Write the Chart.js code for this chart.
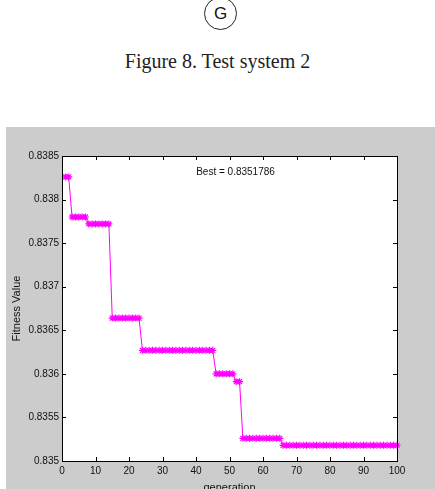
<!DOCTYPE html>
<html>
<head>
<meta charset="utf-8">
<title>Figure 8. Test system 2</title>
<script src="https://cdn.jsdelivr.net/npm/chart.js@4.4.0/dist/chart.umd.min.js"></script>
<style>
  html, body { margin: 0; padding: 0; background: #fff; width: 435px; height: 489px; overflow: hidden; }
  #badge {
    position: absolute; left: 204px; top: -3px; width: 31px; height: 31px;
    border: 1.3px solid #222; border-radius: 50%;
    font: 17px "Liberation Sans", Arial, sans-serif; color: #111;
    display: flex; align-items: center; justify-content: center;
  }
  #caption {
    position: absolute; left: 0; top: 51px; width: 435px; text-align: center;
    font: 20px/20px "Liberation Serif", "Times New Roman", serif; color: #222;
  }
  #figure { position: absolute; left: 6px; top: 127px; width: 429px; height: 372px; background: #cccccc; }
</style>
</head>
<body>
<div id="badge">G</div>
<div id="caption">Figure 8. Test system 2</div>
<div id="figure"><canvas id="chart" width="429" height="372"></canvas></div>

<script>
// generation number (x) and best fitness per generation (y)
const generations = [
  1, 2, 3, 4, 5, 6, 7, 8, 9, 10,
  11, 12, 13, 14, 15, 16, 17, 18, 19, 20,
  21, 22, 23, 24, 25, 26, 27, 28, 29, 30,
  31, 32, 33, 34, 35, 36, 37, 38, 39, 40,
  41, 42, 43, 44, 45, 46, 47, 48, 49, 50,
  51, 52, 53, 54, 55, 56, 57, 58, 59, 60,
  61, 62, 63, 64, 65, 66, 67, 68, 69, 70,
  71, 72, 73, 74, 75, 76, 77, 78, 79, 80,
  81, 82, 83, 84, 85, 86, 87, 88, 89, 90,
  91, 92, 93, 94, 95, 96, 97, 98, 99, 100
];
const bestFitness = [
  0.83826, 0.83826, 0.83780, 0.83780, 0.83780, 0.83780, 0.83780, 0.83772, 0.83772, 0.83772,
  0.83772, 0.83772, 0.83772, 0.83772, 0.83664, 0.83664, 0.83664, 0.83664, 0.83664, 0.83664,
  0.83664, 0.83664, 0.83664, 0.83627, 0.83627, 0.83627, 0.83627, 0.83627, 0.83627, 0.83627,
  0.83627, 0.83627, 0.83627, 0.83627, 0.83627, 0.83627, 0.83627, 0.83627, 0.83627, 0.83627,
  0.83627, 0.83627, 0.83627, 0.83627, 0.83627, 0.83600, 0.83600, 0.83600, 0.83600, 0.83600,
  0.83600, 0.83591, 0.83591, 0.83526, 0.83526, 0.83526, 0.83526, 0.83526, 0.83526, 0.83526,
  0.83526, 0.83526, 0.83526, 0.83526, 0.83526, 0.83518, 0.83518, 0.83518, 0.83518, 0.83518,
  0.83518, 0.83518, 0.83518, 0.83518, 0.83518, 0.83518, 0.83518, 0.83518, 0.83518, 0.83518,
  0.83518, 0.83518, 0.83518, 0.83518, 0.83518, 0.83518, 0.83518, 0.83518, 0.83518, 0.83518,
  0.83518, 0.83518, 0.83518, 0.83518, 0.83518, 0.83518, 0.83518, 0.83518, 0.83518, 0.83518
];

const xTickValues = [0, 10, 20, 30, 40, 50, 60, 70, 80, 90, 100];
const xTickLabels = ['0', '10', '20', '30', '40', '50', '60', '70', '80', '90', '100'];
const yTickValues = [0.835, 0.8355, 0.836, 0.8365, 0.837, 0.8375, 0.838, 0.8385];
const yTickLabels = ['0.835', '0.8355', '0.836', '0.8365', '0.837', '0.8375', '0.838', '0.8385'];

const bestLabel = 'Best = 0.8351786';
const xTitle = 'generation';
const yTitle = 'Fitness Value';

const tickFont = { family: '"Liberation Sans", Arial, sans-serif', size: 10 };
const titleFont = { family: '"Liberation Sans", Arial, sans-serif', size: 11 };

// white axes box, black frame, inward ticks on all sides, "Best" text
const matlabAxes = {
  id: 'matlabAxes',
  beforeDraw(chart) {
    const a = chart.chartArea;
    const ctx = chart.ctx;
    ctx.save();
    ctx.fillStyle = '#ffffff';
    ctx.fillRect(a.left, a.top, a.right - a.left, a.bottom - a.top);
    ctx.restore();
  },
  afterDraw(chart) {
    const a = chart.chartArea;
    const ctx = chart.ctx;
    const xs = chart.scales.x;
    const ys = chart.scales.y;
    const len = 4;
    ctx.save();
    ctx.strokeStyle = '#000';
    ctx.lineWidth = 1;
    ctx.beginPath();
    xs.ticks.forEach(t => {
      const px = Math.round(xs.getPixelForValue(t.value)) + 0.5;
      ctx.moveTo(px, a.bottom); ctx.lineTo(px, a.bottom - len);
      ctx.moveTo(px, a.top); ctx.lineTo(px, a.top + len);
    });
    ys.ticks.forEach(t => {
      const py = Math.round(ys.getPixelForValue(t.value)) + 0.5;
      ctx.moveTo(a.left, py); ctx.lineTo(a.left + len, py);
      ctx.moveTo(a.right, py); ctx.lineTo(a.right - len, py);
    });
    ctx.stroke();
    ctx.strokeRect(Math.round(a.left) + 0.5, Math.round(a.top) + 0.5,
      Math.round(a.right - a.left), Math.round(a.bottom - a.top));

    ctx.fillStyle = '#111';
    ctx.font = '10px "Liberation Sans", Arial, sans-serif';
    ctx.textAlign = 'center';
    ctx.textBaseline = 'alphabetic';
    ctx.fillText(bestLabel, (a.left + a.right) / 2 + 6, a.top + 19);
    ctx.restore();
  }
};

const ctx = document.getElementById('chart').getContext('2d');
new Chart(ctx, {
  type: 'line',
  data: {
    datasets: [{
      data: generations.map((g, i) => ({ x: g, y: bestFitness[i] })),
      borderColor: '#ff00ff',
      borderWidth: 1,
      pointStyle: 'star',
      pointRadius: 3.5,
      pointBorderColor: '#ff00ff',
      pointBackgroundColor: '#ff00ff',
      pointBorderWidth: 1.2,
      tension: 0,
      clip: false
    }]
  },
  options: {
    responsive: false,
    animation: false,
    layout: { padding: { top: 29, right: 38, left: 0, bottom: 0 } },
    plugins: {
      legend: { display: false },
      tooltip: { enabled: false }
    },
    scales: {
      x: {
        type: 'linear',
        min: 0,
        max: 100,
        grid: { display: false, drawTicks: false },
        border: { display: false },
        afterBuildTicks: scale => { scale.ticks = xTickValues.map(v => ({ value: v })); },
        afterFit: scale => { scale.height = 38; },
        ticks: {
          color: '#111',
          font: tickFont,
          padding: 4,
          maxRotation: 0,
          autoSkip: false,
          callback: (value, index) => xTickLabels[index]
        },
        title: { display: true, text: xTitle, color: '#111', font: titleFont, padding: { top: 0, bottom: 4 } }
      },
      y: {
        type: 'linear',
        min: 0.835,
        max: 0.8385,
        grid: { display: false, drawTicks: false },
        border: { display: false },
        afterBuildTicks: scale => { scale.ticks = yTickValues.map(v => ({ value: v })); },
        afterFit: scale => { scale.width = 56; },
        ticks: {
          color: '#111',
          font: tickFont,
          padding: 3,
          autoSkip: false,
          callback: (value, index) => yTickLabels[index]
        },
        title: { display: true, text: yTitle, color: '#111', font: titleFont, padding: { top: 4, bottom: 0 } }
      }
    }
  },
  plugins: [matlabAxes]
});
</script>
</body>
</html>
